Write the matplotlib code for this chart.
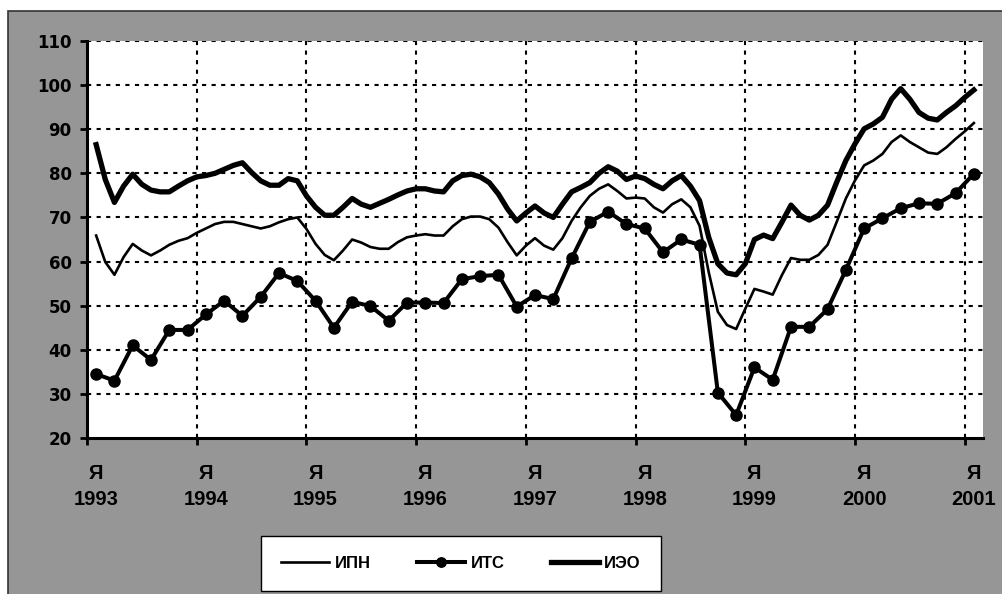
import numpy as np
import matplotlib
matplotlib.use("Agg")
import matplotlib.pyplot as plt
from matplotlib.patches import Rectangle

plt.rcParams['font.family'] = ['Liberation Sans', 'DejaVu Sans']
plt.rcParams['font.weight'] = 'bold'

# ---- data (monthly index counted from January 1993 axis start) ----
years = ['1993', '1994', '1995', '1996', '1997', '1998', '1999', '2000', '2001']
month_label = 'Я'

ipn = [65.9, 59.9, 57.0, 61.0, 64.0, 62.5, 61.4, 62.5, 63.8, 64.7, 65.3, 66.5,
       67.5, 68.5, 69.0, 69.0, 68.5, 68.0, 67.5, 68.0, 68.9, 69.6, 70.0, 67.4,
       64.0, 61.5, 60.3, 62.5, 65.0, 64.3, 63.3, 62.9, 62.9, 64.4, 65.5, 65.9,
       66.2, 65.9, 65.9, 68.0, 69.6, 70.2, 70.2, 69.6, 67.7, 64.4, 61.4, 63.6,
       65.3, 63.6, 62.7, 65.3, 69.2, 72.3, 74.9, 76.5, 77.5, 76.0, 74.3, 74.5,
       74.3, 72.3, 71.1, 73.0, 74.1, 72.3, 68.1, 57.6, 48.6, 45.6, 44.7, 49.3,
       53.8, 53.2, 52.5, 56.9, 60.8, 60.4, 60.4, 61.5, 63.8, 69.0, 74.3, 78.4,
       81.8, 82.9, 84.4, 87.1, 88.6, 87.1, 85.9, 84.7, 84.4, 85.9, 87.8, 89.5,
       91.4]

ieo = [86.5, 78.6, 73.4, 77.1, 79.8, 77.5, 76.2, 75.8, 75.8, 77.1, 78.3, 79.2,
       79.5, 80.0, 80.9, 81.8, 82.4, 80.2, 78.3, 77.3, 77.3, 78.8, 78.3, 74.9,
       72.3, 70.5, 70.5, 72.3, 74.3, 73.0, 72.3, 73.2, 74.1, 75.1, 76.0, 76.5,
       76.5, 76.0, 75.8, 78.3, 79.5, 79.8, 79.2, 77.9, 75.3, 71.9, 69.2, 71.0,
       72.6, 71.0, 70.0, 73.0, 75.8, 76.8, 77.9, 80.0, 81.5, 80.5, 78.6, 79.4,
       78.8, 77.5, 76.5, 78.3, 79.5, 77.1, 73.8, 65.5, 59.5, 57.4, 57.0, 59.5,
       65.0, 66.0, 65.2, 68.9, 72.8, 70.5, 69.4, 70.5, 72.8, 78.0, 82.9, 86.7,
       90.1, 91.2, 92.7, 96.8, 99.2, 96.8, 93.8, 92.5, 92.1, 93.8, 95.3, 97.2,
       98.9]

# bimonthly series
its = [34.5, 33.0, 41.0, 37.7, 44.5, 44.5, 48.0, 51.1, 47.7, 52.0, 57.4, 55.6,
       51.1, 45.0, 50.9, 49.9, 46.6, 50.7, 50.7, 50.6, 56.0, 56.7, 57.0, 49.8,
       52.4, 51.5, 60.7, 69.0, 71.3, 68.5, 67.5, 62.1, 65.0, 63.8, 30.3, 25.2,
       36.0, 33.2, 45.2, 45.2, 49.2, 58.1, 67.5, 69.8, 72.1, 73.2, 73.1, 75.5,
       79.9]

x_month = np.arange(1, len(ipn) + 1)
x_its = np.arange(1, 2 * len(its), 2)

W, H = 1002, 594
fig = plt.figure(figsize=(W / 100, H / 100), dpi=100)
fig.patch.set_facecolor('white')
bg = Rectangle((8 / W, -0.01), 1.0, 1 - 11 / H + 0.01,
               transform=fig.transFigure, facecolor='#969696',
               edgecolor='#333333', linewidth=1.2, zorder=-10)
fig.add_artist(bg)

ax = fig.add_axes([87 / W, (H - 438) / H, (983 - 87) / W, (438 - 41) / H])
ax.set_zorder(1)
ax.set_facecolor('white')
ax.set_xlim(0, 98)
ax.set_ylim(20, 110)

for s in ['top', 'right']:
    ax.spines[s].set_visible(False)
for s in ['left', 'bottom']:
    ax.spines[s].set_linewidth(2.2)
    ax.spines[s].set_color('black')

yt = np.arange(20, 111, 10)
ax.set_yticks(yt)
ax.set_yticklabels([str(v) for v in yt], fontfamily='DejaVu Sans',
                   fontweight='bold', fontsize=12)
ax.tick_params(axis='y', direction='out', length=5, width=2, pad=6)

major = np.arange(0, 97, 12)
ax.set_xticks(major)
ax.set_xticklabels([])
ax.set_xticks(major + 1, minor=True)
ax.set_xticklabels([f'{month_label}\n{y}' for y in years], minor=True,
                   fontsize=14.5, fontweight='bold', linespacing=1.45)
ax.tick_params(axis='x', which='major', direction='out', length=5, width=2)
ax.tick_params(axis='x', which='minor', length=0, pad=19)

dash = (0, (2.0, 2.6))
for v in np.arange(30, 111, 10):
    ax.axhline(v, color='black', linewidth=1.5, linestyle=dash, zorder=1)
for v in major[1:]:
    ax.axvline(v, color='black', linewidth=1.5, linestyle=dash, zorder=1)

ax.plot(x_month, ipn, color='black', linewidth=1.9, label='ИПН', zorder=3)
ax.plot(x_its, its, color='black', linewidth=2.9, marker='o', markersize=8,
        label='ИТС', zorder=4)
ax.plot(x_month, ieo, color='black', linewidth=3.8, label='ИЭО', zorder=3)

leg = fig.legend(loc='center', bbox_to_anchor=(461 / W, 1 - 563 / H), ncol=3,
                 frameon=True, fancybox=False, framealpha=1, edgecolor='black',
                 prop={'size': 12, 'weight': 'bold'}, handlelength=2.9,
                 handletextpad=0.3, columnspacing=2.8, borderpad=1.2,
                 numpoints=1, markerscale=0.85)
leg.get_frame().set_linewidth(1.0)
leg.set_zorder(5)

fig.savefig('out.png', dpi=100, facecolor=fig.get_facecolor())
